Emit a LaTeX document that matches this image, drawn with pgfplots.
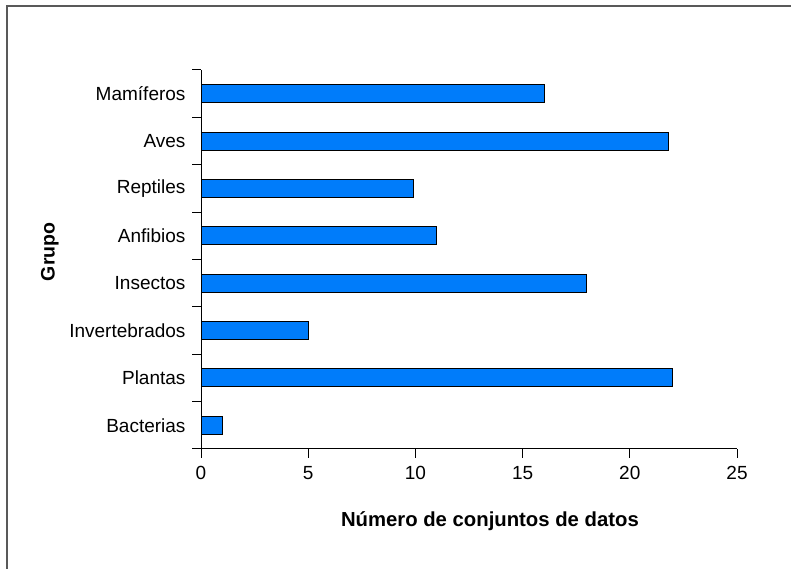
\documentclass[border=0pt]{standalone}
\usepackage{pgfplots}
\pgfplotsset{compat=1.18}
\usepackage{fontspec}
\setmainfont{Liberation Sans}
\definecolor{barblue}{RGB}{0,124,250}
\pgfplotstableread{
y val
0 1
1 22
2 5
3 18
4 11
5 9.9
6 21.8
7 16
}\datatable
\begin{document}
\begin{tikzpicture}
\path[use as bounding box] (0pt,0pt) rectangle (791pt,569pt);
\draw[gray!70!black, line width=1.2pt] (7pt,0pt) -- (7pt,563pt) -- (791pt,563pt);
\begin{axis}[
  at={(201pt,120pt)}, anchor=south west,
  scale only axis, width=536pt, height=379pt,
  xmin=0, xmax=25, ymin=-0.5, ymax=7.5,
  axis lines=left, axis line style={-, line width=1pt},
  xtick={0,5,...,25}, minor xtick={0,5,...,25},
  ytick={0,...,7}, minor ytick={-0.5,0.5,...,7.5},
  yticklabels={Bacterias,Plantas,Invertebrados,Insectos,Anfibios,Reptiles,Aves,Mamíferos},
  major tick length=0pt, minor tick length=9pt,
  tick align=outside,
  tick style={black, line width=1pt},
  /pgf/number format/assume math mode=true,
  tick label style={font=\fontsize{19}{22}\selectfont},
  yticklabel style={xshift=-12pt},
  xticklabel style={yshift=-14pt},
  xlabel={Número de conjuntos de datos},
  ylabel={Grupo},
  xlabel style={font=\fontsize{20.3}{24}\selectfont\bfseries, at={(axis description cs:0.539,-0.19)}, anchor=center},
  ylabel style={font=\fontsize{19.5}{23}\selectfont\bfseries, at={(axis description cs:-0.282,0.52)}, anchor=center},
  clip=false,
]
\addplot[xbar, bar width=18pt, fill=barblue, draw=black, line width=1pt] table[x=val, y=y] {\datatable};
\end{axis}
\end{tikzpicture}
\end{document}
